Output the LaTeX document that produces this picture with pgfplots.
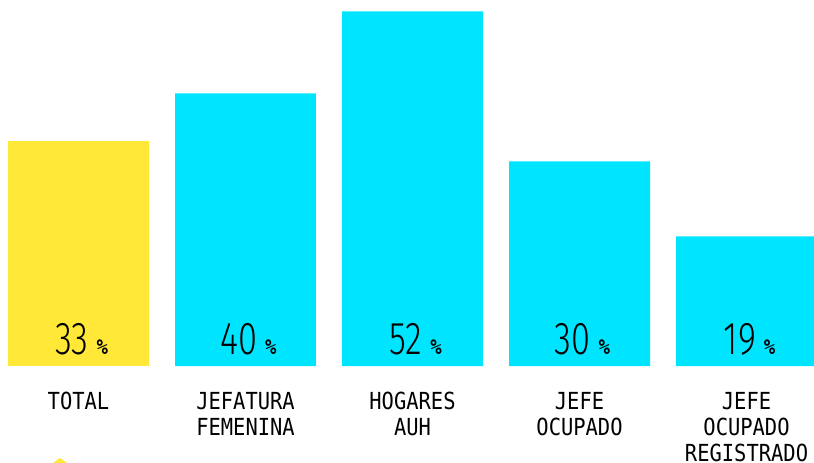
\documentclass[border=0pt]{standalone}
\usepackage{fontspec}
\usepackage{pgfplots}
\pgfplotsset{compat=1.18}
\newfontfamily\labfont[FakeStretch=0.87]{DejaVu Sans Mono}
\newfontfamily\numfont[FakeStretch=0.75]{Fira Sans Light}
\newfontfamily\pctfont[FakeStretch=0.9]{DejaVu Sans Mono Bold}
\definecolor{barYellow}{HTML}{FFE838}
\definecolor{barCyan}{HTML}{00E5FF}
\begin{document}
\begin{tikzpicture}
\begin{axis}[
  at={(0,0)}, anchor=south west,
  width=814pt, height=366pt, scale only axis,
  xmin=-0.470, xmax=4.404, ymin=0, ymax=53.68,
  axis line style={draw=none},
  tick style={draw=none},
  ytick=\empty,
  xtick={0,1,2,3,4},
  xticklabels={TOTAL, JEFATURA\\FEMENINA, HOGARES\\AUH, JEFE\\OCUPADO, JEFE\\OCUPADO\\REGISTRADO},
  xticklabel style={align=center, anchor=north, inner sep=0pt, yshift=-26pt,
    font=\labfont\fontsize{23.5}{26}\selectfont},
  every node near coord/.append style={anchor=base, inner sep=0pt, yshift=12pt, xshift=3pt},
  clip=true,
]
\addplot[ybar, bar width=0.844, bar shift=0pt, fill=barYellow, draw=none] coordinates {(0,33)};
\addplot[ybar, bar width=0.844, bar shift=0pt, fill=barCyan, draw=none] coordinates {(1,40) (2,52) (3,30) (4,19)};
\addplot[draw=none, mark=none, point meta=explicit symbolic,
  nodes near coords={{\numfont\fontsize{46}{46}\selectfont\pgfplotspointmeta}\hspace{8pt}{\pctfont\fontsize{21}{21}\selectfont\%}}]
  coordinates {(0,0)[33] (1,0)[40] (2,0)[52] (3,0)[30] (4,0)[19]};
\end{axis}
\fill[barYellow] (53pt,-97pt) -- (60pt,-92pt) -- (67pt,-97pt) -- cycle;
\pgfresetboundingbox
\path[use as bounding box] (0,-97pt) rectangle (814pt,366pt);
\end{tikzpicture}
\end{document}
